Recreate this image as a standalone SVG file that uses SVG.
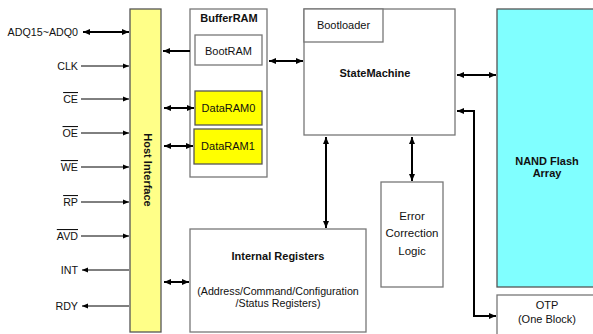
<svg xmlns="http://www.w3.org/2000/svg" width="593" height="334" viewBox="0 0 593 334">
<style>
text{font-family:"Liberation Sans",Arial,sans-serif;font-size:11px;fill:#111}
.b{font-weight:bold}
.m{text-anchor:middle}
.r{text-anchor:end;font-size:10.7px}
.ov{text-decoration:overline}
.sm{font-size:10.7px}
.box{fill:#fff;stroke:#777;stroke-width:1.3}
.thin{stroke:#000;stroke-width:1;fill:none}
.thick{stroke:#000;stroke-width:2;fill:none}
</style>
<defs>
<marker id="a" markerUnits="userSpaceOnUse" markerWidth="8" markerHeight="8" refX="7" refY="4" orient="auto-start-reverse" viewBox="0 0 8 8">
<path d="M0,1 L7,4 L0,7 z" fill="#000"/>
</marker>
<marker id="s" markerUnits="userSpaceOnUse" markerWidth="7" markerHeight="7" refX="6" refY="3.5" orient="auto-start-reverse" viewBox="0 0 7 7">
<path d="M0,1 L6,3.5 L0,6 z" fill="#000"/>
</marker>
</defs>
<rect width="593" height="334" fill="#fff"/>

<g id="host-interface">
<rect x="130" y="9" width="31" height="323" fill="#ffff88" stroke="#555" stroke-width="1.3"/>
<text class="b m" transform="translate(144,170) rotate(90)">Host Interface</text>
</g>

<g id="signals">
<text class="r" x="78" y="36">ADQ15~ADQ0</text>
<text class="r" x="78" y="70">CLK</text>
<text class="r ov" x="78" y="103">CE</text>
<text class="r ov" x="78" y="137">OE</text>
<text class="r ov" x="78" y="171">WE</text>
<text class="r ov" x="78" y="206">RP</text>
<text class="r ov" x="78" y="240">AVD</text>
<text class="r" x="78" y="274">INT</text>
<text class="r" x="78" y="310">RDY</text>
</g>

<g id="bufferram">
<rect class="box" x="190" y="9" width="77" height="168"/>
<text class="b m" x="229" y="22">BufferRAM</text>
</g>
<g id="bootram">
<rect class="box" x="195" y="35" width="67" height="30"/>
<text class="m" x="228.5" y="55">BootRAM</text>
</g>
<g id="dataram0">
<rect x="195" y="91" width="67" height="34" fill="#ffff00" stroke="#555" stroke-width="1.3"/>
<text class="m" x="228.5" y="112">DataRAM0</text>
</g>
<g id="dataram1">
<rect x="194" y="129" width="68" height="35" fill="#ffff00" stroke="#555" stroke-width="1.3"/>
<text class="m" x="228" y="150">DataRAM1</text>
</g>

<g id="statemachine">
<rect class="box" x="304" y="9" width="151" height="126"/>
<text class="b m" x="375" y="77">StateMachine</text>
</g>
<g id="bootloader">
<rect class="box" x="304" y="9" width="79" height="33"/>
<text class="m" x="343.5" y="29">Bootloader</text>
</g>

<g id="nand-flash">
<rect x="497" y="9" width="100" height="278" fill="#80ffff" stroke="#555" stroke-width="1.3"/>
<text class="b m" x="547" y="165">NAND Flash</text>
<text class="b m" x="547" y="177">Array</text>
</g>

<g id="otp">
<rect class="box" x="497" y="295" width="100" height="45"/>
<text class="m" x="547" y="309">OTP</text>
<text class="m" x="547" y="323">(One Block)</text>
</g>

<g id="error-correction">
<rect class="box" x="381" y="182" width="62" height="105"/>
<text class="m" x="412" y="220" style="font-size:11.5px">Error</text>
<text class="m" x="412" y="237" style="font-size:11.5px">Correction</text>
<text class="m" x="412" y="255" style="font-size:11.5px">Logic</text>
</g>

<g id="internal-registers">
<rect class="box" x="190" y="229" width="176" height="103"/>
<text class="b m" x="278" y="260">Internal Registers</text>
<text class="m sm" x="278" y="295">(Address/Command/Configuration</text>
<text class="m sm" x="278" y="307">/Status Registers)</text>
</g>

<g id="connectors">
<line class="thick" x1="83" y1="32" x2="129" y2="32" marker-start="url(#a)" marker-end="url(#a)"/>
<line class="thin" x1="81" y1="66" x2="129" y2="66" marker-end="url(#s)"/>
<line class="thin" x1="81" y1="99" x2="129" y2="99" marker-end="url(#s)"/>
<line class="thin" x1="81" y1="133" x2="129" y2="133" marker-end="url(#s)"/>
<line class="thin" x1="81" y1="167" x2="129" y2="167" marker-end="url(#s)"/>
<line class="thin" x1="81" y1="202" x2="129" y2="202" marker-end="url(#s)"/>
<line class="thin" x1="81" y1="236" x2="129" y2="236" marker-end="url(#s)"/>
<line class="thin" x1="129" y1="270" x2="82" y2="270" marker-end="url(#s)"/>
<line class="thin" x1="129" y1="306" x2="82" y2="306" marker-end="url(#s)"/>
<line class="thick" x1="190" y1="51" x2="163" y2="51" marker-end="url(#a)"/>
<line class="thick" x1="164" y1="108" x2="194" y2="108" marker-start="url(#a)" marker-end="url(#a)"/>
<line class="thick" x1="164" y1="146" x2="193" y2="146" marker-start="url(#a)" marker-end="url(#a)"/>
<line class="thick" x1="269" y1="61" x2="303" y2="61" marker-start="url(#a)" marker-end="url(#a)"/>
<line class="thick" x1="457" y1="75" x2="496" y2="75" marker-start="url(#a)" marker-end="url(#a)"/>
<polyline class="thick" points="457,111 474,111 474,316 496,316" marker-start="url(#a)" marker-end="url(#a)"/>
<line class="thick" x1="326" y1="137" x2="326" y2="228" marker-start="url(#a)" marker-end="url(#a)"/>
<line class="thick" x1="412" y1="137" x2="412" y2="181" marker-start="url(#a)" marker-end="url(#a)"/>
<line class="thick" x1="164" y1="282" x2="189" y2="282" marker-start="url(#a)" marker-end="url(#a)"/>
</g>
</svg>
